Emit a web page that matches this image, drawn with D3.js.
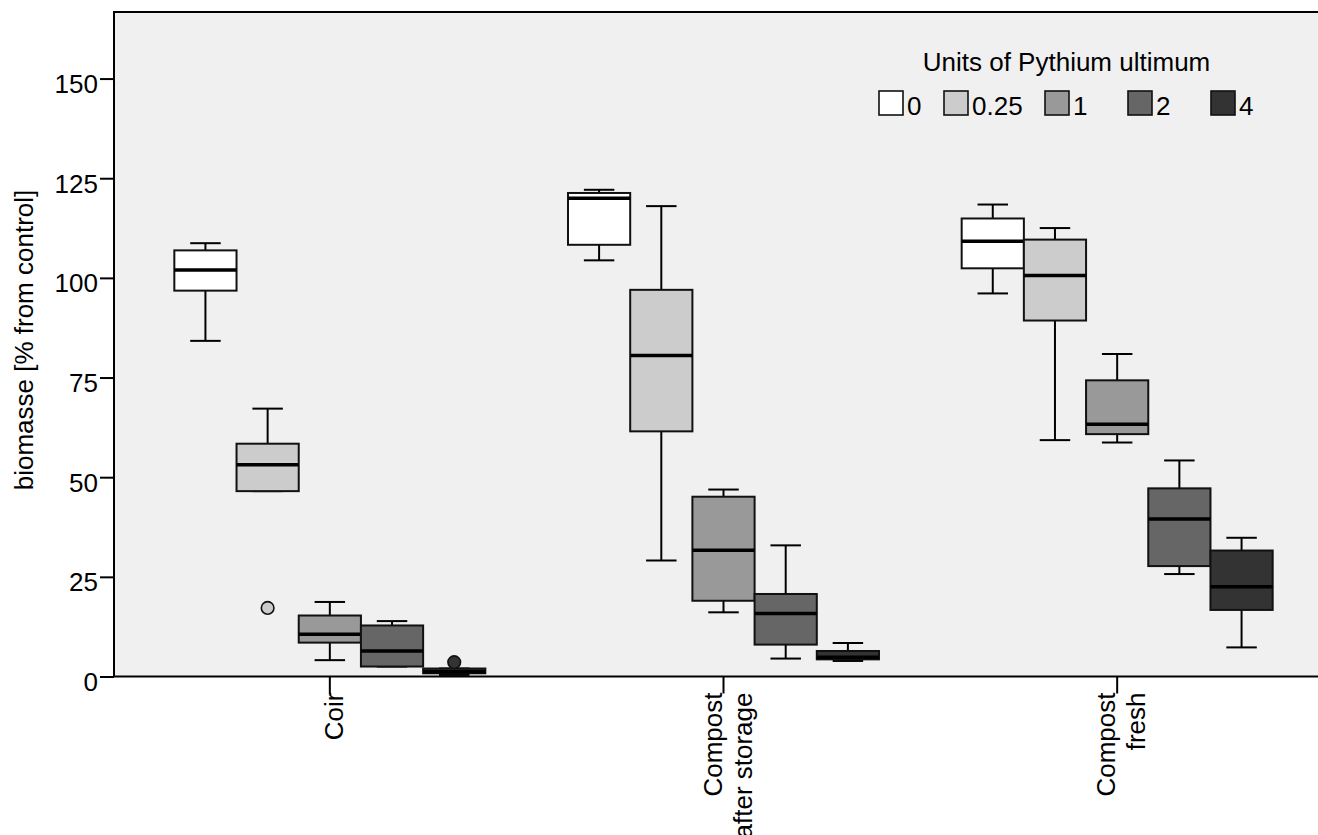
<!DOCTYPE html>
<html>
<head>
<meta charset="utf-8">
<script src="https://cdn.jsdelivr.net/npm/d3@7"></script>
<style>
  html, body { margin: 0; padding: 0; background: #ffffff; }
  svg { display: block; font-family: "Liberation Sans", Arial, sans-serif; }
</style>
</head>
<body>
<svg id="chart" width="1318" height="835"></svg>
<script>
// ---------------- DATA ----------------
const categories = ["Coir", "Compost after storage", "Compost fresh"];
const categoryLabelLines = [["Coir"], ["Compost", "after storage"], ["Compost", "fresh"]];
const seriesNames = ["0", "0.25", "1", "2", "4"];
const seriesColors = ["#ffffff", "#cccccc", "#999999", "#666666", "#333333"];
const yTicks = [0, 25, 50, 75, 100, 125, 150];

// rows = categories, columns = series (0, 0.25, 1, 2, 4)
const whiskerLow = [
  [84.2, 46.5, 4.1, 2.5, 0.4],
  [104.4, 29.1, 16.1, 4.5, 3.9],
  [96.1, 59.3, 58.7, 25.7, 7.3]
];
const quartile1 = [
  [96.8, 46.5, 8.5, 2.5, 0.8],
  [108.3, 61.5, 19.0, 8.0, 4.3],
  [102.4, 89.3, 60.8, 27.7, 16.7]
];
const medians = [
  [102.0, 53.1, 10.6, 6.4, 1.2],
  [120.0, 80.5, 31.7, 15.8, 4.8],
  [109.2, 100.6, 63.3, 39.5, 22.5]
];
const quartile3 = [
  [106.9, 58.4, 15.3, 12.8, 2.0],
  [121.3, 97.0, 45.1, 20.7, 6.4],
  [114.9, 109.6, 74.3, 47.2, 31.6]
];
const whiskerHigh = [
  [108.7, 67.2, 18.7, 13.9, 2.0],
  [122.1, 118.0, 46.9, 32.9, 8.4],
  [118.4, 112.5, 80.9, 54.2, 34.8]
];
const outlierCategory = [0, 0];
const outlierSeries = [1, 4];
const outlierValue = [17.2, 3.6];

const yTitle = "biomasse [% from control]";
const legendTitle = "Units of Pythium ultimum";

// ---------------- LAYOUT ----------------
const W = 1318, H = 835;
const plotLeft = 114, plotTop = 12, plotBottom = 676.5;
const FONT = 26;

const svg = d3.select("#chart");

const y = d3.scaleLinear().domain([0, 166.7]).range([plotBottom, plotTop]);
const x0 = d3.scaleBand().domain(categories).range([133, 1314]).paddingInner(0).paddingOuter(0);
const x1 = d3.scaleBand().domain(seriesNames)
  .range([x0.bandwidth() * 0.105, x0.bandwidth() * 0.895]);

// plot background
svg.append("rect")
  .attr("x", plotLeft).attr("y", plotTop)
  .attr("width", W - plotLeft + 10).attr("height", plotBottom - plotTop)
  .attr("fill", "#f0f0f0");

// build box records
const boxes = [];
categories.forEach((c, ci) => {
  seriesNames.forEach((s, si) => {
    boxes.push({
      cat: c, ser: s, ci, si,
      lo: whiskerLow[ci][si], q1: quartile1[ci][si], med: medians[ci][si],
      q3: quartile3[ci][si], hi: whiskerHigh[ci][si]
    });
  });
});

const bw = x1.bandwidth();
const capW = bw * 0.49;
const g = svg.append("g");

const bg = g.selectAll("g.box").data(boxes).enter().append("g").attr("class", "box")
  .attr("transform", d => `translate(${x0(d.cat) + x1(d.ser)},0)`);

// whiskers
bg.append("line")
  .attr("x1", bw / 2).attr("x2", bw / 2)
  .attr("y1", d => y(d.hi)).attr("y2", d => y(d.q3))
  .attr("stroke", "#000").attr("stroke-width", 2);
bg.append("line")
  .attr("x1", bw / 2).attr("x2", bw / 2)
  .attr("y1", d => y(d.q1)).attr("y2", d => y(d.lo))
  .attr("stroke", "#000").attr("stroke-width", 2);
bg.append("line")
  .attr("x1", bw / 2 - capW / 2).attr("x2", bw / 2 + capW / 2)
  .attr("y1", d => y(d.hi)).attr("y2", d => y(d.hi))
  .attr("stroke", "#000").attr("stroke-width", 2);
bg.append("line")
  .attr("x1", bw / 2 - capW / 2).attr("x2", bw / 2 + capW / 2)
  .attr("y1", d => y(d.lo)).attr("y2", d => y(d.lo))
  .attr("stroke", "#000").attr("stroke-width", 2);

// box
bg.append("rect")
  .attr("x", 0).attr("width", bw)
  .attr("y", d => y(d.q3)).attr("height", d => Math.max(0.5, y(d.q1) - y(d.q3)))
  .attr("fill", d => seriesColors[d.si])
  .attr("stroke", "#111").attr("stroke-width", 2);

// median
bg.append("line")
  .attr("x1", 0).attr("x2", bw)
  .attr("y1", d => y(d.med)).attr("y2", d => y(d.med))
  .attr("stroke", "#000").attr("stroke-width", 3.5);

// outliers
const outliers = outlierValue.map((v, i) => ({ ci: outlierCategory[i], si: outlierSeries[i], v }));
g.selectAll("circle.out").data(outliers).enter().append("circle")
  .attr("class", "out")
  .attr("cx", d => x0(categories[d.ci]) + x1(seriesNames[d.si]) + bw / 2)
  .attr("cy", d => y(d.v))
  .attr("r", 6.3)
  .attr("fill", d => seriesColors[d.si])
  .attr("stroke", "#111").attr("stroke-width", 1.6);

// plot frame (top, left, bottom)
svg.append("path")
  .attr("d", `M${W + 5},${plotTop}H${plotLeft}V${plotBottom}H${W + 5}`)
  .attr("fill", "none").attr("stroke", "#000").attr("stroke-width", 2);

// y axis
const yAxis = d3.axisLeft(y).tickValues(yTicks).tickSize(14).tickPadding(2);
const ya = svg.append("g").attr("transform", `translate(${plotLeft},0)`).call(yAxis);
ya.select(".domain").remove();
ya.selectAll(".tick line").attr("stroke", "#000").attr("stroke-width", 2);
ya.selectAll(".tick text")
  .attr("font-size", FONT).attr("font-family", "Liberation Sans, Arial, sans-serif")
  .attr("fill", "#000").attr("dy", null).attr("y", 14);

// x axis ticks and labels
const xAxis = d3.axisBottom(x0).tickSize(17).tickFormat("");
const xa = svg.append("g").attr("transform", `translate(0,${plotBottom})`).call(xAxis);
xa.select(".domain").remove();
xa.selectAll(".tick line").attr("stroke", "#000").attr("stroke-width", 2);

const lineGap = 30;
categories.forEach((c, ci) => {
  const lines = categoryLabelLines[ci];
  const cx = x0(c) + x0.bandwidth() / 2;
  lines.forEach((ln, li) => {
    const bx = cx + 13 + (li - (lines.length - 1) / 2) * lineGap;
    svg.append("text")
      .attr("transform", `translate(${bx},${plotBottom + 16}) rotate(-90)`)
      .attr("text-anchor", "end")
      .attr("font-size", FONT)
      .attr("fill", "#000")
      .text(ln);
  });
});

// y title
svg.append("text")
  .attr("transform", `translate(33,340) rotate(-90)`)
  .attr("text-anchor", "middle")
  .attr("font-size", FONT)
  .attr("fill", "#000")
  .text(yTitle);

// legend
const legendX = [879, 944, 1045, 1128, 1211];
svg.append("text")
  .attr("x", 1066.5).attr("y", 71)
  .attr("text-anchor", "middle")
  .attr("font-size", FONT)
  .attr("fill", "#000")
  .text(legendTitle);
const lg = svg.selectAll("g.leg").data(seriesNames).enter().append("g").attr("class", "leg")
  .attr("transform", (d, i) => `translate(${legendX[i]},91)`);
lg.append("rect")
  .attr("x", 0).attr("y", 0).attr("width", 24).attr("height", 24)
  .attr("fill", (d, i) => seriesColors[i])
  .attr("stroke", "#111").attr("stroke-width", 1.6);
lg.append("text")
  .attr("x", 28).attr("y", 23.5)
  .attr("font-size", FONT)
  .attr("fill", "#000")
  .text(d => d);
</script>
</body>
</html>
